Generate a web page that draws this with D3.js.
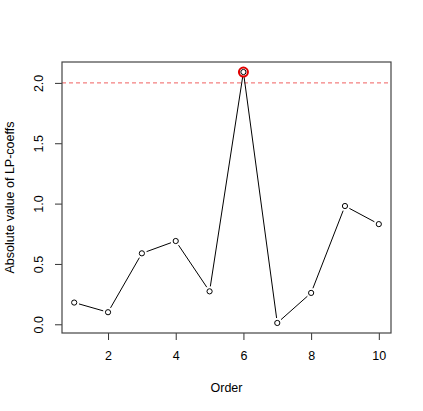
<!DOCTYPE html>
<html>
<head>
<meta charset="utf-8">
<script src="https://cdn.jsdelivr.net/npm/d3@7"></script>
<style>
  body { margin: 0; background: #fff; }
  text { font-family: "Liberation Sans", Arial, sans-serif; fill: #000; }
</style>
</head>
<body>
<div id="container"></div>
<script>
// data
const orders = [1, 2, 3, 4, 5, 6, 7, 8, 9, 10];
const coeffs = [0.18, 0.10, 0.588, 0.69, 0.273, 2.09, 0.011, 0.26, 0.98, 0.83];
const xTicks = [2, 4, 6, 8, 10];
const yTicks = [0.0, 0.5, 1.0, 1.5, 2.0];
const threshold = 2.0;

const width = 423, height = 411;
const box = { left: 62, right: 391, top: 62, bottom: 333 };

const svg = d3.select("#container").append("svg")
  .attr("width", width)
  .attr("height", height);

// R-style 4% padding on the data range
const xMin = d3.min(orders), xMax = d3.max(orders);
const yMin = d3.min(coeffs), yMax = d3.max(coeffs);
const xPad = (xMax - xMin) * 0.04, yPad = (yMax - yMin) * 0.04;

const x = d3.scaleLinear().domain([xMin - xPad, xMax + xPad]).range([box.left, box.right]);
const y = d3.scaleLinear().domain([yMin - yPad, yMax + yPad]).range([box.bottom, box.top]);

// threshold line
svg.append("line")
  .attr("x1", box.left).attr("x2", box.right)
  .attr("y1", y(threshold)).attr("y2", y(threshold))
  .attr("stroke", "#f06060")
  .attr("stroke-width", 1)
  .attr("stroke-dasharray", "4,3");

// axes
const xAxis = d3.axisBottom(x).tickValues(xTicks).tickFormat(d3.format("d")).tickSize(7).tickPadding(11);
const yAxis = d3.axisLeft(y).tickValues(yTicks).tickFormat(d3.format(".1f")).tickSize(7).tickPadding(4);

const gx = svg.append("g").attr("transform", "translate(0," + box.bottom + ")").call(xAxis);
gx.select(".domain").remove();
gx.selectAll("text").style("font-size", "12.5px");

const gy = svg.append("g").attr("transform", "translate(" + box.left + ",0)").call(yAxis);
gy.select(".domain").remove();
gy.selectAll("text")
  .style("font-size", "12.5px")
  .attr("text-anchor", "middle")
  .attr("dy", null)
  .attr("x", null)
  .attr("transform", "translate(-19,0) rotate(-90)");

svg.selectAll(".tick line").attr("stroke", "#333");

// lines with gaps around points (type = "b")
const gap = 5;
const pts = orders.map((o, i) => [x(o), y(coeffs[i])]);
for (let i = 0; i < pts.length - 1; i++) {
  const [x1, y1] = pts[i], [x2, y2] = pts[i + 1];
  const dx = x2 - x1, dy = y2 - y1, len = Math.hypot(dx, dy);
  if (len <= 2 * gap) continue;
  const ux = dx / len, uy = dy / len;
  svg.append("line")
    .attr("x1", x1 + ux * gap).attr("y1", y1 + uy * gap)
    .attr("x2", x2 - ux * gap).attr("y2", y2 - uy * gap)
    .attr("stroke", "#000").attr("stroke-width", 1);
}

// points
svg.selectAll("circle.pt")
  .data(orders)
  .enter().append("circle")
  .attr("class", "pt")
  .attr("cx", d => x(d))
  .attr("cy", (d, i) => y(coeffs[i]))
  .attr("r", 2.6)
  .attr("fill", "none")
  .attr("stroke", "#000")
  .attr("stroke-width", 1);

// highlight the maximum
const iMax = d3.maxIndex(coeffs);
svg.append("circle")
  .attr("cx", x(orders[iMax]))
  .attr("cy", y(coeffs[iMax]))
  .attr("r", 4.5)
  .attr("fill", "none")
  .attr("stroke", "#e00000")
  .attr("stroke-width", 2);

// plot box
svg.append("rect")
  .attr("x", box.left).attr("y", box.top)
  .attr("width", box.right - box.left)
  .attr("height", box.bottom - box.top)
  .attr("fill", "none")
  .attr("stroke", "#444")
  .attr("stroke-width", 1.2);

// axis titles
svg.append("text")
  .attr("x", (box.left + box.right) / 2)
  .attr("y", 392)
  .attr("text-anchor", "middle")
  .style("font-size", "12.5px")
  .text("Order");

svg.append("text")
  .attr("transform", "translate(14," + (box.top + box.bottom) / 2 + ") rotate(-90)")
  .attr("text-anchor", "middle")
  .style("font-size", "12.5px")
  .text("Absolute value of LP-coeffs");
</script>
</body>
</html>
